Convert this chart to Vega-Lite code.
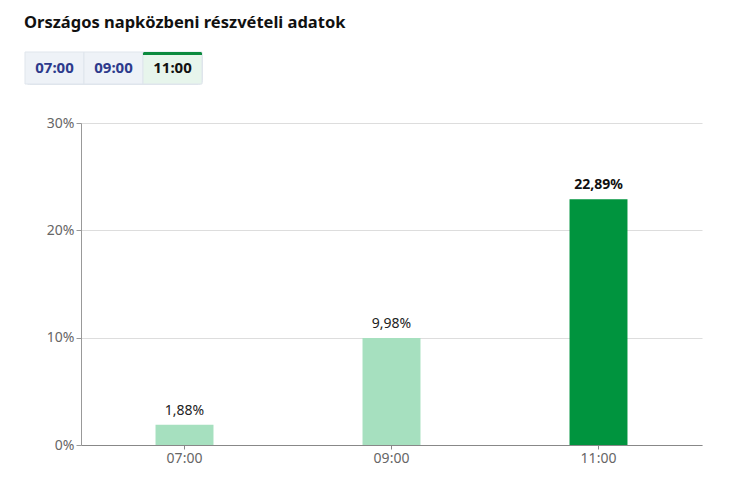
{
  "$schema": "https://vega.github.io/schema/vega-lite/v6.json",
  "description": "Országos napközbeni részvételi adatok, oszlopdiagram",
  "padding": {"left": 24, "top": 14, "right": 5, "bottom": 5},
  "title": {
    "text": "Országos napközbeni részvételi adatok",
    "anchor": "start",
    "fontSize": 16.5,
    "fontWeight": "bold",
    "color": "#111111",
    "font": "Noto Sans",
    "offset": 20
  },
  "datasets": {
    "adat": [
      {"ido": "07:00", "reszvetel": 0.0188, "aktiv": false},
      {"ido": "09:00", "reszvetel": 0.0998, "aktiv": false},
      {"ido": "11:00", "reszvetel": 0.2289, "aktiv": true}
    ]
  },
  "spacing": 31,
  "vconcat": [
    {
      "width": 177,
      "height": 32,
      "data": {"name": "adat"},
      "view": {"stroke": "#dfe5ec", "cornerRadius": 4},
      "encoding": {
        "x": {"field": "ido", "type": "ordinal", "axis": null,
              "scale": {"paddingInner": 0, "paddingOuter": 0}}
      },
      "layer": [
        {
          "mark": {"type": "bar", "stroke": "#dfe5ec", "strokeWidth": 1},
          "encoding": {
            "y": {"datum": 1, "type": "quantitative", "axis": null, "scale": {"domain": [0, 1]}},
            "y2": {"datum": 0},
            "color": {
              "condition": {"test": "datum.aktiv", "value": "#e7f5ec"},
              "value": "#eef2f7"
            }
          }
        },
        {
          "transform": [{"filter": "datum.aktiv"}],
          "mark": {"type": "bar", "color": "#0b8a3e", "cornerRadiusTopLeft": 2, "cornerRadiusTopRight": 2},
          "encoding": {
            "y": {"datum": 1, "type": "quantitative"},
            "y2": {"datum": 0.91}
          }
        },
        {
          "mark": {"type": "text", "font": "Noto Sans", "fontSize": 15, "fontWeight": "bold"},
          "encoding": {
            "y": {"datum": 0.5, "type": "quantitative"},
            "text": {"field": "ido"},
            "color": {
              "condition": {"test": "datum.aktiv", "value": "#111111"},
              "value": "#2d3a8c"
            }
          }
        }
      ]
    },
    {
      "bounds": "flush",
      "spacing": 0,
      "hconcat": [
        {
          "width": 56,
          "height": 322,
          "data": {"values": []},
          "view": {"stroke": null},
          "mark": "rule",
          "encoding": {}
        },
        {
          "width": 621,
          "height": 322,
          "data": {"name": "adat"},
          "view": {"stroke": null},
          "encoding": {
            "x": {
              "field": "ido",
              "type": "ordinal",
              "title": null,
              "scale": {"paddingInner": 0.72, "paddingOuter": 0.36},
              "axis": {
                "labelAngle": 0,
                "labelColor": "#666666",
                "labelFontSize": 14,
                "labelFont": "Noto Sans",
                "labelPadding": 2,
                "domainColor": "#888888",
                "tickColor": "#888888",
                "tickSize": 4
              }
            },
            "y": {
              "field": "reszvetel",
              "type": "quantitative",
              "title": null,
              "scale": {"domain": [0, 0.3]},
              "axis": {
                "values": [0, 0.1, 0.2, 0.3],
                "format": ".0%",
                "labelColor": "#666666",
                "labelFontSize": 14,
                "labelFont": "Noto Sans",
                "labelPadding": 2,
                "domainColor": "#999999",
                "tickColor": "#999999",
                "tickSize": 5,
                "gridColor": "#dddddd"
              }
            }
          },
          "layer": [
            {
              "mark": {"type": "bar"},
              "encoding": {
                "color": {
                  "field": "aktiv",
                  "type": "nominal",
                  "legend": null,
                  "scale": {"domain": [false, true], "range": ["#a6e0bf", "#00943e"]}
                }
              }
            },
            {
              "transform": [{"filter": "!datum.aktiv"}],
              "mark": {"type": "text", "baseline": "bottom", "dy": -7, "font": "Noto Sans", "fontSize": 14, "color": "#222222"},
              "encoding": {"text": {"field": "reszvetel", "type": "quantitative", "format": ".2%"}}
            },
            {
              "transform": [{"filter": "datum.aktiv"}],
              "mark": {"type": "text", "baseline": "bottom", "dy": -7, "font": "Noto Sans", "fontSize": 14, "fontWeight": "bold", "color": "#111111"},
              "encoding": {"text": {"field": "reszvetel", "type": "quantitative", "format": ".2%"}}
            }
          ]
        }
      ]
    }
  ],
  "config": {
    "locale": {
      "number": {"decimal": ",", "thousands": " ", "grouping": [3], "currency": ["", " Ft"]}
    }
  }
}
